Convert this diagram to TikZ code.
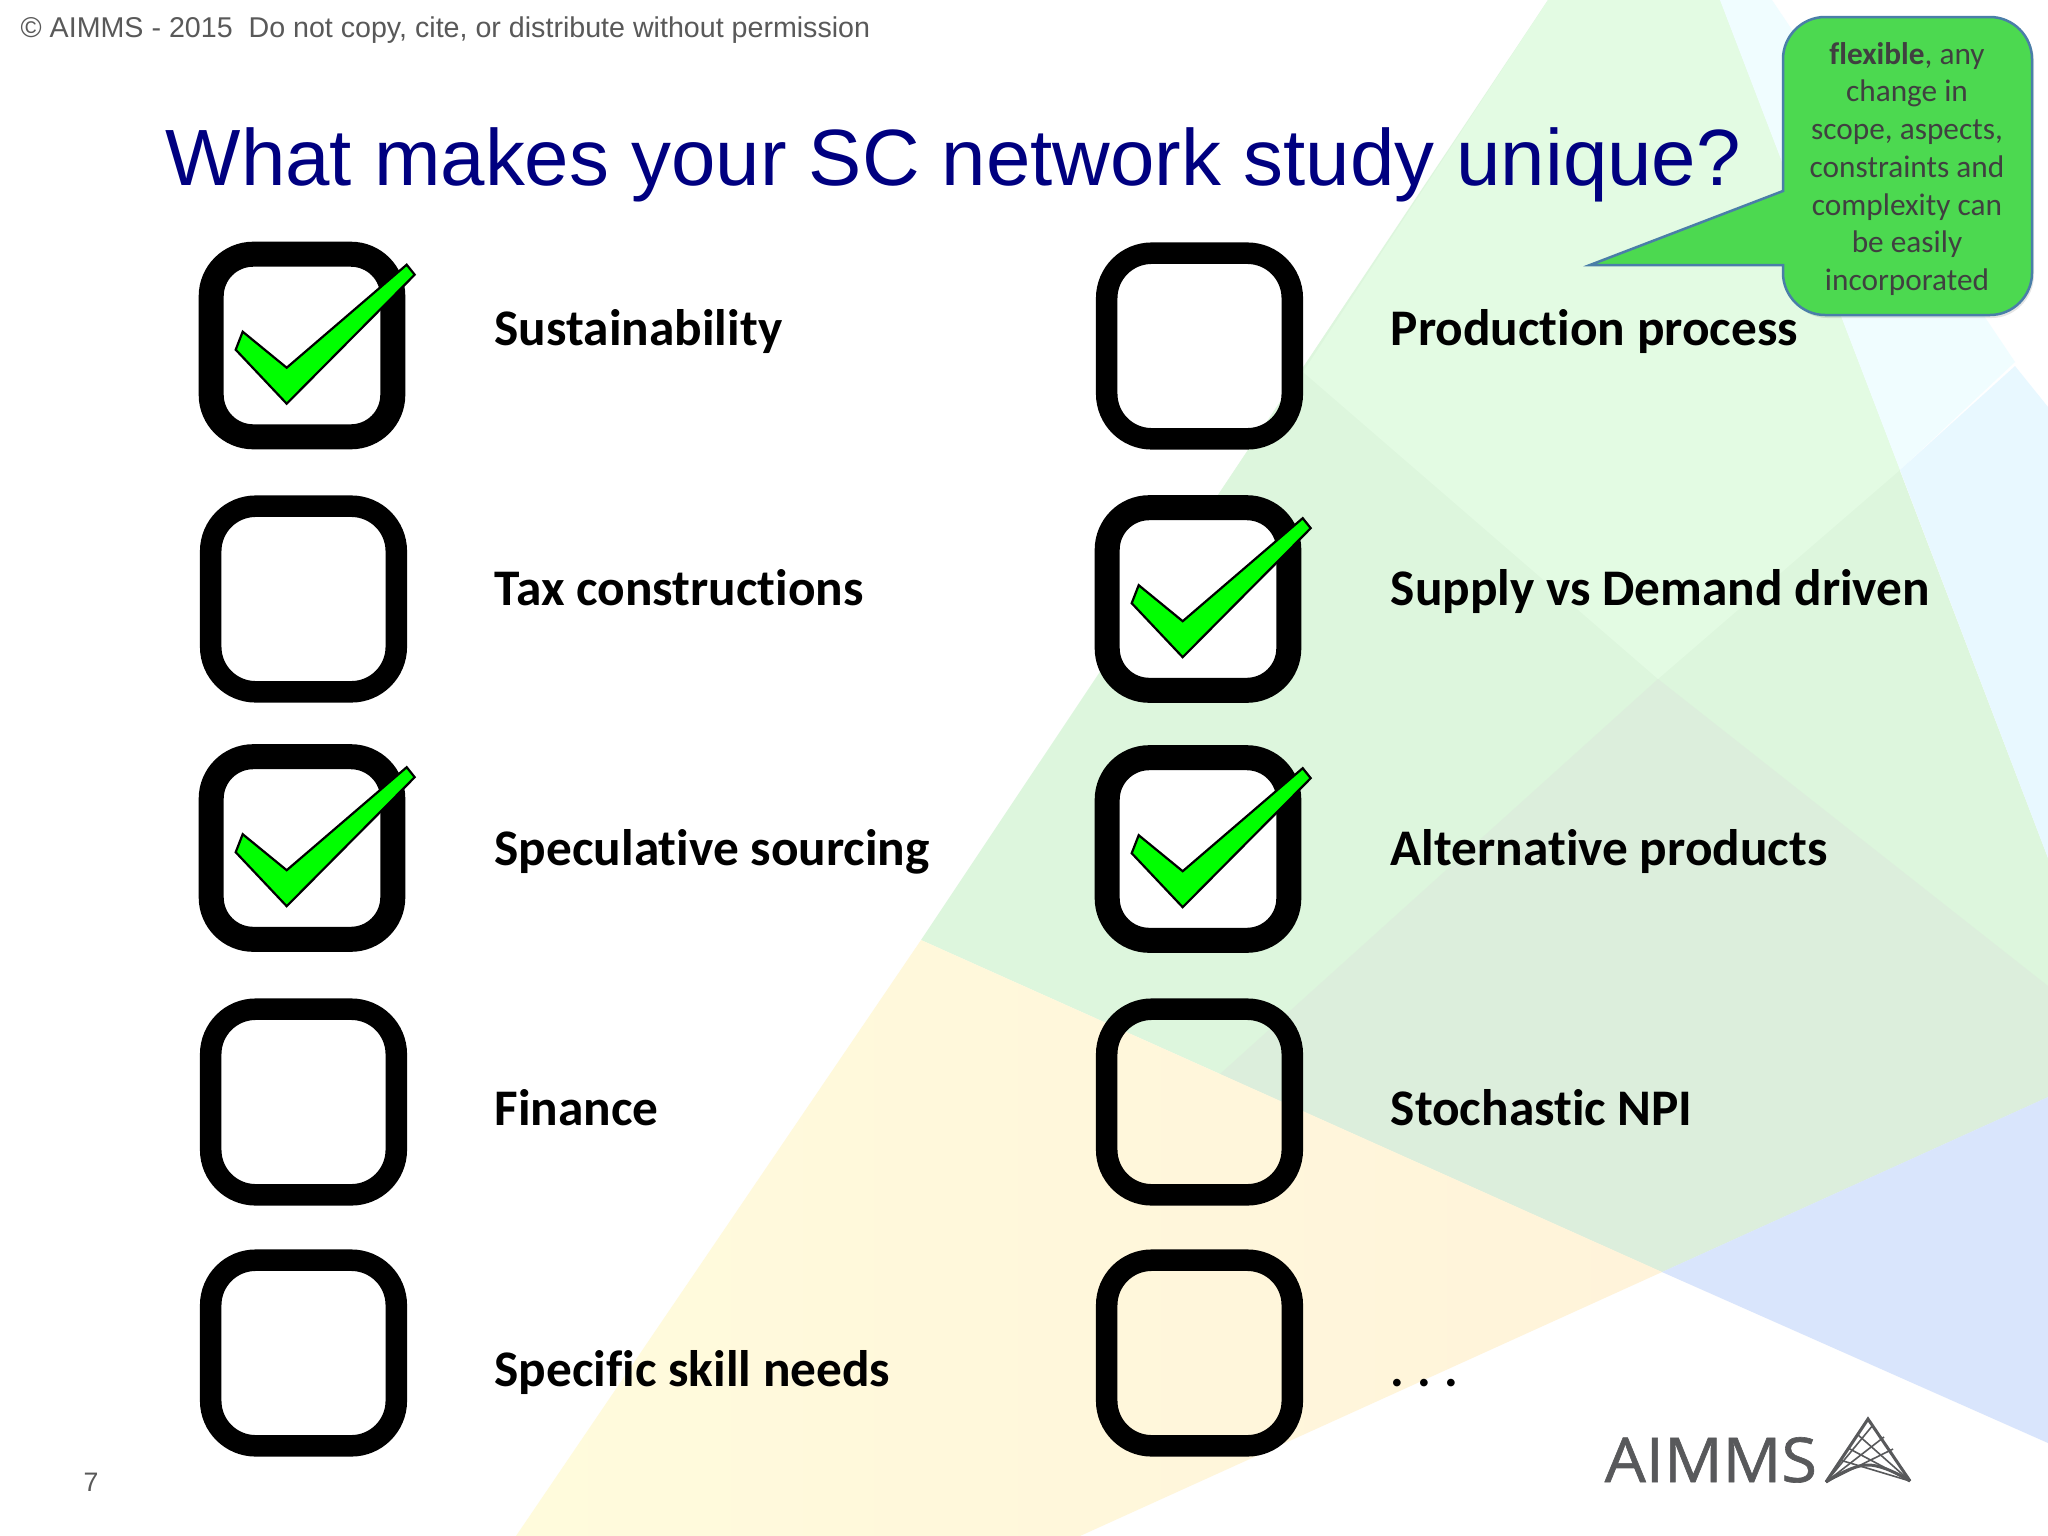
\documentclass[tikz,border=0pt]{standalone}
\usepackage{fontspec}
\setmainfont{Liberation Sans}
\newfontfamily\carlito[Ligatures=NoCommon]{Carlito}
\newfontfamily\opensans[FakeBold=1,FakeStretch=1.05]{Open Sans}
\definecolor{gTop}{HTML}{E3FBE3}
\definecolor{gMid}{HTML}{DDF6DD}
\definecolor{gGrey}{HTML}{DCEEDC}
\definecolor{yLeft}{HTML}{FFFBDC}
\definecolor{yRight}{HTML}{FFF3DA}
\definecolor{blueBg}{HTML}{D9E5FC}
\definecolor{cyanA}{HTML}{F0FDFF}
\definecolor{cyanB}{HTML}{E8F8FF}
\definecolor{navyT}{HTML}{000080}
\definecolor{greyT}{HTML}{595959}
\definecolor{tickG}{HTML}{00FF00}
\definecolor{bubbleG}{HTML}{4CD950}
\definecolor{bubbleB}{HTML}{4A7EA8}
\definecolor{logoG}{HTML}{58595B}
\tikzset{
  x=0.01cm,y=-0.01cm,
  tickbox/.style={draw=black,fill=white,line width=0.25cm,rounded corners=0.42cm,inner sep=0pt,outer sep=0pt,minimum width=1.815cm,minimum height=1.825cm},
  emptybox/.style={draw=black,line width=0.215cm,rounded corners=0.45cm,inner sep=0pt,outer sep=0pt,minimum width=1.855cm,minimum height=1.855cm},
  item/.style={anchor=base west,inner sep=0pt,font=\carlito\bfseries\fontsize{14.6}{18}\selectfont,text=black},
  tickmark/.style={draw=black,fill=tickG,line width=0.022cm,line join=miter},
  logoline/.style={draw=logoG,line width=0.03cm},
  logothin/.style={draw=logoG,line width=0.016cm},
}
\newcommand{\tickon}[1]{%
  \draw[tickmark,shift={(#1.north west)},shift={(-12.5,-12.5)}]
    (208,23)--(216,33)--(88,162)--(37,108)--(44,90)--(88,126)--cycle;}
\begin{document}
\begin{tikzpicture}
\useasboundingbox (0,0) rectangle (2048,1536);
\fill[white] (0,0) rectangle (2048,1536);
% background planes
\fill[gMid] (1548,0)--(1720,0)--(2048,858)--(2048,1097)--(1662,1272)--(921,940)--cycle;
\fill[gTop] (1548,0)--(1720,0)--(1900,470)--(1658,679)--(1303,372)--cycle;
\fill[gGrey] (1658,679)--(2048,986)--(2048,1097)--(1662,1272)--(1220,1074)--cycle;
\fill[cyanA] (1720,0)--(1772,0)--(2015,362)--(1900,470)--cycle;
\fill[cyanB] (2015,366)--(2048,407)--(2048,858)--(1900,470)--cycle;
\fill[blueBg] (1662,1272)--(2048,1097)--(2048,1443)--cycle;
\shade[left color=yLeft,right color=yRight] (921,940)--(1662,1272)--(1080,1536)--(516,1536)--cycle;
% header
\node[anchor=base west,inner sep=0pt,text=greyT,font=\fontsize{8.14}{10}\selectfont] (hdr) at (20,37) {© AIMMS - 2015\ \ Do not copy, cite, or distribute without permission};
\node[anchor=base west,inner sep=0pt,text=navyT,font=\fontsize{22.7}{28}\selectfont] (title) at (165,185) {What makes your SC network study unique?};
% left column
\node[tickbox] (a1) at (302,345.5) {};
\node[emptybox] (a2) at (303.5,599) {};
\node[tickbox] (a3) at (302,848) {};
\node[emptybox] (a4) at (303.5,1102) {};
\node[emptybox] (a5) at (303.5,1353) {};
% right column
\node[emptybox] (b1) at (1199.5,346) {};
\node[tickbox] (b2) at (1198,599) {};
\node[tickbox] (b3) at (1198,849) {};
\node[emptybox] (b4) at (1199.5,1102) {};
\node[emptybox] (b5) at (1199.5,1353) {};
\tickon{a1}\tickon{a3}\tickon{b2}\tickon{b3}
% labels
\node[item] (ta1) at (494,345) {Sustainability};
\node[item] (ta2) at (494,605) {Tax constructions};
\node[item] (ta3) at (494,865) {Speculative sourcing};
\node[item] (ta4) at (494,1125) {Finance};
\node[item] (ta5) at (494,1386) {Specific skill needs};
\node[item] (tb1) at (1390,345) {Production process};
\node[item] (tb2) at (1390,605) {Supply vs Demand driven};
\node[item] (tb3) at (1390,865) {Alternative products};
\node[item] (tb4) at (1390,1125) {Stochastic NPI};
\node[item] (tb5) at (1390,1386) {.\hspace{0.13cm}.\hspace{0.13cm}.};
% page number
\node[anchor=base,inner sep=0pt,text=greyT,font=\fontsize{7.6}{9}\selectfont] (pg) at (91,1491) {7};
% callout
\fill[black,opacity=.1] (1785,61) .. controls (1785,38) and (1804,19) .. (1827,19) -- (1992,19) .. controls (2015,19) and (2034,38) .. (2034,61) -- (2034,275) .. controls (2034,298) and (2015,318) .. (1992,318) -- (1827,318) .. controls (1804,318) and (1785,298) .. (1785,275) -- cycle;
\draw[draw=bubbleB,fill=bubbleG,line width=0.025cm,line join=miter]
  (1783,191) -- (1783,59) .. controls (1783,36) and (1802,17) .. (1825,17)
  -- (1990,17) .. controls (2013,17) and (2032,36) .. (2032,59)
  -- (2032,273) .. controls (2032,296) and (2013,315) .. (1990,315)
  -- (1825,315) .. controls (1802,315) and (1783,296) .. (1783,273)
  -- (1783,265) -- (1590,265) -- cycle;
\node[anchor=north,inner sep=0pt,align=center,text=black!75,font=\carlito\fontsize{8.9}{10.73}\selectfont] (bubbletext) at (1907,41.5) {\textbf{flexible}, any\\change in\\scope, aspects,\\constraints and\\complexity can\\be easily\\incorporated};
% logo
\node[anchor=base west,inner sep=0pt,text=logoG,font=\opensans\fontsize{17.6}{20}\selectfont] (logo) at (1604,1482) {AIMMS};
\draw[logoline,line join=miter] (1826,1482)--(1868,1419)--(1910,1481);
\draw[logoline] (1826,1482) .. controls (1845,1470) and (1858,1465) .. (1868,1465) .. controls (1878,1465) and (1892,1470) .. (1910,1481);
\draw[logothin] (1826,1482) -- (1873,1425);
\draw[logothin] (1826,1482) -- (1884,1437);
\draw[logothin] (1826,1482) -- (1893,1449);
\draw[logothin] (1910,1481) -- (1868,1419);
\draw[logothin] (1910,1481) -- (1857,1434);
\draw[logothin] (1910,1481) -- (1848,1448);
\draw[logothin] (1910,1481) -- (1840,1460);
\end{tikzpicture}
\end{document}
